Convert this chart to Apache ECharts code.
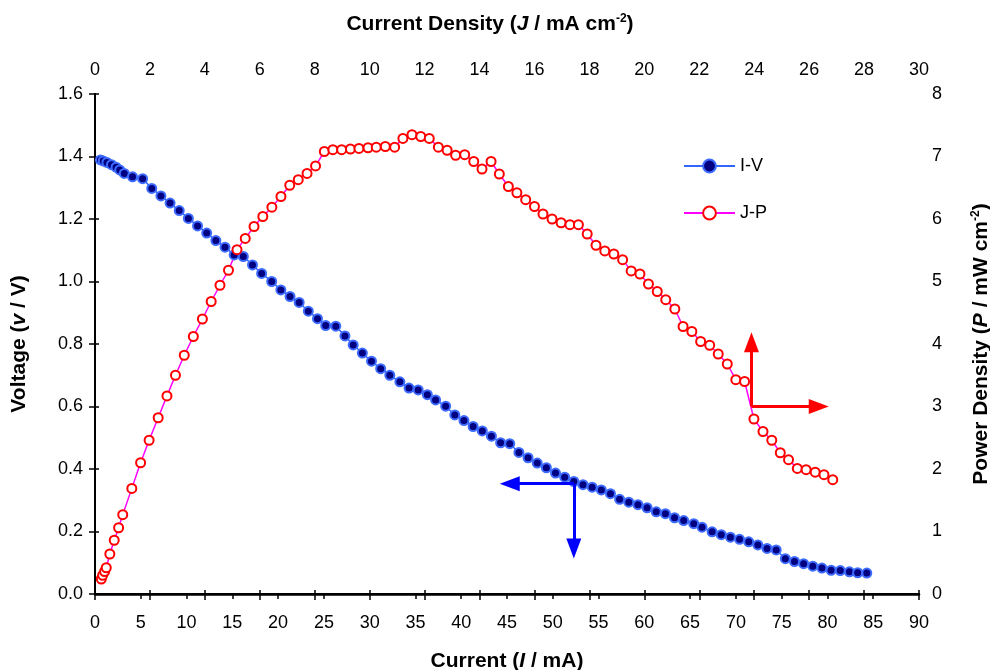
<!DOCTYPE html>
<html lang="en">
<head>
    <meta charset="UTF-8">
    <title>I-V / J-P</title>
    <script src="https://cdn.jsdelivr.net/npm/echarts@6/dist/echarts.min.js"></script>
    <style>
        body{
            margin: 0;
            background: #fff;
        }
        #chart{
            width: 990px;
            height: 670px;
        }
    </style>
</head>
<body>
    <div id="chart"></div>
    <script>
        // I-V curve (bottom / left axes)
        var ivCurrent = [0.6,0.9,1.3,1.8,2.3,2.7,3.2,4.1,5.2,6.2,7.2,8.2,9.2,10.2,11.2,12.2,13.2,14.2,15.2,16.2,17.2,18.2,19.3,20.3,21.3,
            22.3,23.3,24.3,25.2,26.3,27.3,28.2,29.2,30.2,31.2,32.2,33.3,34.3,35.3,36.3,37.2,38.3,39.3,40.3,41.3,42.3,43.3,44.3,45.3,46.3,
            47.3,48.3,49.3,50.3,51.3,52.3,53.3,54.3,55.3,56.3,57.3,58.3,59.3,60.3,61.3,62.3,63.3,64.3,65.4,66.3,67.4,68.4,69.4,70.4,71.4,
            72.4,73.4,74.4,75.4,76.4,77.4,78.4,79.4,80.4,81.4,82.4,83.3,84.3];
        var ivVoltage = [1.389,1.386,1.381,1.374,1.366,1.357,1.346,1.335,1.329,1.298,1.274,1.251,1.227,1.202,1.178,1.155,1.131,1.110,1.085,1.080,1.053,1.026,1.000,0.973,0.952,
            0.933,0.905,0.881,0.859,0.857,0.826,0.797,0.771,0.745,0.721,0.700,0.679,0.659,0.653,0.638,0.621,0.601,0.573,0.555,0.536,0.522,0.505,0.484,0.481,0.453,
            0.436,0.419,0.404,0.387,0.374,0.360,0.350,0.342,0.333,0.321,0.303,0.294,0.286,0.276,0.263,0.257,0.244,0.235,0.225,0.214,0.199,0.190,0.182,0.175,0.167,
            0.157,0.146,0.141,0.113,0.104,0.097,0.089,0.083,0.076,0.075,0.071,0.068,0.067];

        // J-P curve (top / right axes)
        var jpDensity = [0.23,0.28,0.35,0.41,0.54,0.70,0.86,1.01,1.34,1.66,1.97,2.30,2.62,2.93,3.25,3.58,3.91,4.23,4.55,4.86,5.17,5.47,5.79,6.11,6.44,
            6.77,7.09,7.40,7.72,8.03,8.35,8.66,8.98,9.30,9.61,9.94,10.24,10.57,10.91,11.21,11.54,11.86,12.17,12.50,12.82,13.13,13.46,13.79,14.09,14.42,
            14.72,15.05,15.36,15.68,16.00,16.31,16.64,16.97,17.29,17.60,17.92,18.24,18.56,18.89,19.21,19.52,19.84,20.15,20.47,20.78,21.11,21.41,21.73,22.05,22.38,
            22.69,23.02,23.33,23.65,23.99,24.32,24.64,24.95,25.25,25.57,25.89,26.22,26.54,26.86];
        var jpPower = [0.24,0.30,0.36,0.42,0.64,0.86,1.06,1.27,1.69,2.10,2.46,2.82,3.17,3.50,3.82,4.12,4.40,4.68,4.94,5.18,5.51,5.69,5.88,6.04,6.19,
            6.36,6.54,6.63,6.73,6.85,7.08,7.11,7.11,7.12,7.13,7.14,7.15,7.16,7.15,7.29,7.35,7.32,7.29,7.15,7.10,7.02,7.03,6.92,6.80,6.92,
            6.72,6.52,6.42,6.31,6.20,6.08,6.00,5.94,5.91,5.91,5.76,5.58,5.49,5.44,5.35,5.17,5.12,4.96,4.84,4.71,4.56,4.28,4.20,4.04,3.98,
            3.84,3.68,3.43,3.40,2.80,2.60,2.46,2.26,2.15,2.01,1.99,1.95,1.91,1.83];

        // arrows: [cornerX, cornerY, tipX, tipY]
        var ivArrow = [52.3, 0.353, 45.3, 0.146];
        var jpArrow = [23.9, 3.0, 26.35, 4.03];

        var font = "'Liberation Sans', Arial, sans-serif";
        var nameRich = {
            i: {fontFamily: font, fontSize: 21, fontWeight: 'bold', fontStyle: 'italic', color: '#000'},
            sup: {fontFamily: font, fontSize: 12, fontWeight: 'bold', color: '#000', padding: [0, 0, 10, 0]}
        };
        var nameStyle = {fontFamily: font, fontSize: 21, fontWeight: 'bold', color: '#000', rich: nameRich};
        var labelStyle = {fontFamily: font, fontSize: 18, color: '#000'};

        function pairs(xs, ys){
            var out = [];
            for (let i = 0; i < Math.min(xs.length, ys.length); i++) {
                out.push([xs[i], ys[i]]);
            }
            return out;
        }

        var myChart = echarts.init(document.getElementById('chart'), null, {renderer: 'canvas'});
        var option = {
            animation: false,
            backgroundColor: '#fff',
            grid: {left: 95, right: 71, top: 94, bottom: 76, containLabel: false, outerBoundsMode: 'none'},
            legend: {
                orient: 'vertical',
                left: 678,
                top: 152,
                itemWidth: 51,
                itemHeight: 16,
                itemGap: 29,
                textStyle: {fontFamily: font, fontSize: 18, color: '#000'},
                data: ['I-V', 'J-P']
            },
            xAxis: [
                {
                    type: 'value', position: 'bottom', min: 0, max: 90, interval: 5,
                    name: 'Current ({i|I} / mA)', nameLocation: 'middle', nameGap: 57, nameTextStyle: nameStyle,
                    axisLine: {lineStyle: {color: '#000', width: 2.5}},
                    axisTick: {length: 5, lineStyle: {color: '#000', width: 1.5}},
                    axisLabel: Object.assign({margin: 20}, labelStyle),
                    splitLine: {show: false}
                },
                {
                    type: 'value', position: 'top', min: 0, max: 30, interval: 2,
                    name: 'Current Density ({i|J} / mA cm{sup|-2})', nameLocation: 'middle', nameGap: 59,
                    nameTextStyle: Object.assign({padding: [0, 34, 0, 0]}, nameStyle),
                    axisLine: {lineStyle: {color: '#000', width: 2}},
                    axisTick: {length: 4, lineStyle: {color: '#000', width: 1.5}},
                    axisLabel: Object.assign({margin: 15}, labelStyle),
                    splitLine: {show: false}
                },
                {
                    // inner half of the top cross ticks
                    type: 'value', position: 'top', min: 0, max: 30, interval: 2,
                    axisLine: {show: false},
                    axisTick: {inside: true, length: 6, lineStyle: {color: '#000', width: 1.5}},
                    axisLabel: {show: false},
                    splitLine: {show: false}
                }
            ],
            yAxis: [
                {
                    type: 'value', position: 'left', min: 0, max: 1.6, interval: 0.2,
                    name: 'Voltage ({i|v} / V)', nameLocation: 'middle', nameRotate: 90, nameGap: 65, nameTextStyle: nameStyle,
                    axisLine: {show: true, lineStyle: {color: '#000', width: 2}},
                    axisTick: {show: true, length: 6, lineStyle: {color: '#000', width: 1.5}},
                    axisLabel: Object.assign({margin: 12, formatter: function (v) { return v.toFixed(1); }}, labelStyle),
                    splitLine: {show: false}
                },
                {
                    type: 'value', position: 'right', min: 0, max: 8, interval: 1,
                    name: 'Power Density ({i|P} / mW cm{sup|-2})', nameLocation: 'middle', nameRotate: 90, nameGap: 51, nameTextStyle: nameStyle,
                    axisLine: {show: true, lineStyle: {color: '#000', width: 2}},
                    axisTick: {show: true, length: 4, lineStyle: {color: '#000', width: 1.5}},
                    axisLabel: Object.assign({margin: 13}, labelStyle),
                    splitLine: {show: false}
                },
                {
                    type: 'value', position: 'right', min: 0, max: 8, interval: 1,
                    axisLine: {show: false},
                    axisTick: {show: true, inside: true, length: 4, lineStyle: {color: '#000', width: 1.5}},
                    axisLabel: {show: false},
                    splitLine: {show: false}
                }
            ],
            series: [
                {
                    name: 'I-V',
                    type: 'line',
                    xAxisIndex: 0,
                    yAxisIndex: 0,
                    data: pairs(ivCurrent, ivVoltage),
                    symbol: 'circle',
                    symbolSize: 9,
                    lineStyle: {color: '#3366ff', width: 1.5},
                    itemStyle: {color: '#000080', borderColor: '#3d6bff', borderWidth: 2},
                    markLine: {
                        silent: true,
                        symbol: ['none', 'triangle'],
                        symbolSize: [15, 20],
                        label: {show: false},
                        lineStyle: {color: '#0000ff', width: 3, type: 'solid'},
                        data: [
                            [{coord: [ivArrow[0], ivArrow[1]]}, {coord: [ivArrow[2], ivArrow[1]]}],
                            [{coord: [ivArrow[0], ivArrow[1]]}, {coord: [ivArrow[0], ivArrow[3]]}]
                        ]
                    }
                },
                {
                    name: 'J-P',
                    type: 'line',
                    xAxisIndex: 1,
                    yAxisIndex: 1,
                    data: pairs(jpDensity, jpPower),
                    symbol: 'circle',
                    symbolSize: 9,
                    lineStyle: {color: '#ff00ff', width: 1.5},
                    itemStyle: {color: '#ffffff', borderColor: '#ff0000', borderWidth: 2},
                    markLine: {
                        silent: true,
                        symbol: ['none', 'triangle'],
                        symbolSize: [15, 20],
                        label: {show: false},
                        lineStyle: {color: '#ff0000', width: 3, type: 'solid'},
                        data: [
                            [{coord: [jpArrow[0], jpArrow[1]]}, {coord: [jpArrow[2], jpArrow[1]]}],
                            [{coord: [jpArrow[0], jpArrow[1]]}, {coord: [jpArrow[0], jpArrow[3]]}]
                        ]
                    }
                }
            ]
        };
        myChart.setOption(option);
    </script>
</body>
</html>
